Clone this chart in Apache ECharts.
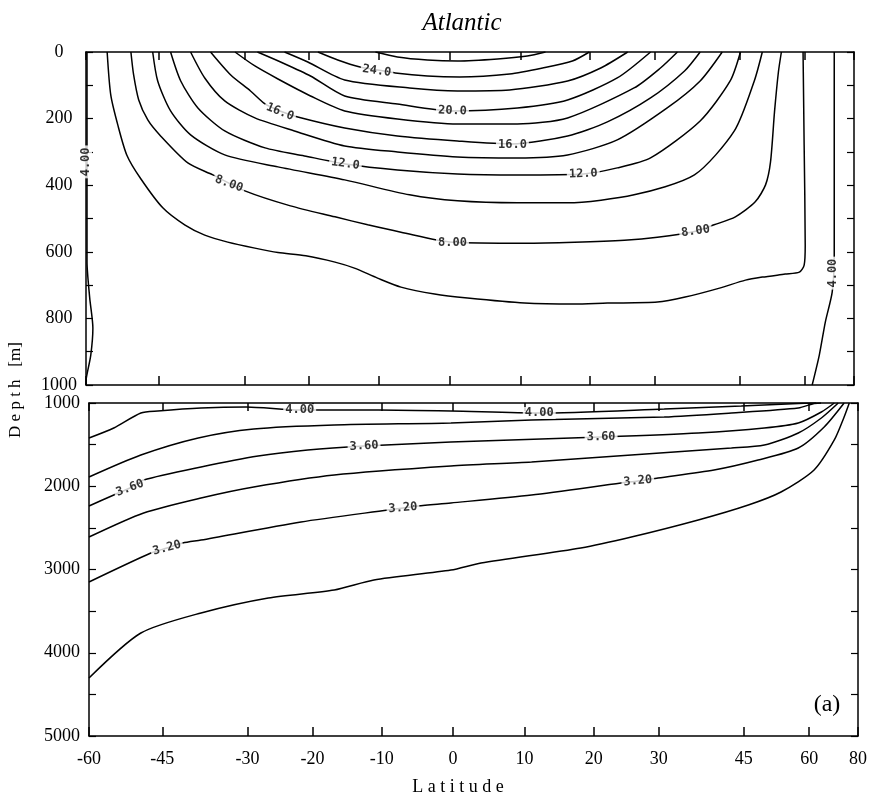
<!DOCTYPE html>
<html>
<head>
<meta charset="utf-8">
<script src="https://cdn.jsdelivr.net/npm/echarts@6/dist/echarts.min.js"></script>
<style>
  html, body { margin: 0; padding: 0; background: #fff; }
  #main { width: 871px; height: 796px; }
</style>
</head>
<body>
<div id="main"></div>
<script>
// latitude axis is drawn in sin(latitude)
var LAT_MIN = -62.3, LAT_MAX = 80;
var tickLats = [-60, -45, -30, -20, -10, 0, 10, 20, 30, 45, 60, 80];

// upper panel, temperature contours [lat, depth m], 0-1000 m
var t26 = [[-10.4,0],[-7.3,15],[-3.1,24],[1.1,27],[6.7,21],[10.9,12],[13.5,0]];
var t24 = [[-18.7,0],[-15.8,24],[-12.6,45],[-10.1,54],[-7.6,63],[-3.1,72],[1.4,75],[8.4,66],[13.1,48],[17.4,27],[19.9,0]];
var t22 = [[-23.7,0],[-20.2,30],[-14.8,84],[-5.6,108],[1.1,117],[8.4,114],[16.7,87],[21.6,48],[25.7,0]];
var t20 = [[-27.9,0],[-24.3,30],[-19.8,72],[-14.8,132],[-7.3,156],[0.4,177],[9.5,168],[16.7,144],[24.1,78],[29.3,0]];
var t18 = [[-31.5,0],[-28.3,42],[-24.7,81],[-19.8,132],[-14.8,177],[-7.3,201],[1.1,216],[9.5,216],[16.7,198],[26.7,108],[30.9,48],[33.7,0]];
var t16 = [[-35.6,0],[-32.2,69],[-29.0,117],[-26.7,156],[-24.4,177],[-21.7,195],[-14.8,228],[-7.3,252],[1.1,267],[8.8,276],[16.7,252],[22.6,210],[29.3,138],[34.9,57],[37.6,0]];
var t14 = [[-39.1,0],[-36.6,78],[-33.2,147],[-28.3,198],[-22.2,237],[-14.8,282],[-7.3,300],[1.1,315],[9.5,318],[16.7,309],[24.1,264],[32.0,168],[37.6,87],[41.6,0]];
var t12 = [[-42.8,0],[-40.9,87],[-37.8,168],[-33.2,237],[-26.7,288],[-20.7,312],[-14.7,336],[-7.3,354],[1.1,366],[9.5,369],[19.0,366],[24.1,348],[29.3,318],[37.6,207],[43.1,87],[45.1,0]];
var t10 = [[-46.3,0],[-45.3,87],[-42.8,177],[-39.1,249],[-33.2,309],[-24.7,345],[-14.8,384],[-5.6,429],[1.1,447],[9.5,453],[16.7,453],[26.7,429],[36.6,369],[43.9,237],[47.9,87],[49.6,0]];
var t8 = [[-50.9,0],[-50.3,69],[-49.2,144],[-47.3,204],[-44.9,249],[-39.6,333],[-35.2,369],[-29.9,417],[-22.8,462],[-16.2,495],[-11.5,519],[-6.8,541],[0.4,571],[10.5,574],[17.7,571],[25.2,565],[30.4,556],[36.8,538],[40.1,519],[44.1,495],[48.1,450],[50.3,399],[51.4,330],[52.3,180],[53.2,60],[53.9,0]];
var t6 = [[-56.5,0],[-55.6,129],[-53.9,219],[-51.8,310],[-48.8,380],[-44.3,468],[-40.1,520],[-36.6,550],[-32.7,571],[-28.3,589],[-24.7,602],[-20.5,612],[-16.2,631],[-13.4,649],[-10.1,679],[-6.8,706],[-2.1,727],[2.5,739],[10.5,754],[17.7,757],[22.6,754],[30.4,751],[35.0,736],[41.1,709],[46.1,685],[49.6,676],[54.8,667],[58.4,661],[59.7,640],[60.0,580],[59.7,279],[59.4,0]];
var t4west = [[-62.0,0],[-62.0,630],[-61.2,739],[-60.3,829],[-60.9,910],[-62.2,979],[-62.3,1000]];
var t4east = [[69.5,0],[69.5,610],[68.7,721],[66.2,811],[64.2,910],[62.0,1000]];

// lower panel, 1000-5000 m
var d400 = [[-62.3,1420],[-55.6,1300],[-49.4,1120],[-45.9,1096],[-37.8,1060],[-30.2,1048],[-21.9,1084],[-10.5,1084],[-0.3,1096],[12.1,1120],[30.9,1072],[44.5,1036],[57.1,1005],[62.0,1000]];
var d380 = [[-62.3,1889],[-49.4,1625],[-38.3,1420],[-29.0,1312],[-16.8,1264],[-0.3,1240],[11.0,1204],[30.9,1168],[42.6,1120],[57.1,1060],[61.4,1005],[63.5,1000]];
var d360 = [[-62.3,2237],[-55.6,2105],[-51.8,2021],[-48.8,1925],[-37.8,1769],[-28.3,1637],[-20.7,1565],[-12.5,1517],[-0.3,1469],[21.1,1408],[36.6,1360],[49.2,1300],[57.1,1240],[63.6,1108],[68.0,1000]];
var d340 = [[-62.3,2610],[-48.8,2321],[-37.8,2141],[-29.0,2009],[-16.8,1865],[-0.3,1757],[11.0,1709],[25.7,1625],[42.6,1541],[49.2,1505],[57.1,1360],[63.6,1180],[69.5,1000]];
var d320 = [[-62.3,3150],[-47.3,2802],[-44.1,2742],[-41.1,2682],[-37.8,2646],[-21.7,2429],[-9.1,2285],[-7.0,2261],[-4.9,2237],[-0.3,2201],[11.0,2105],[24.1,1961],[26.7,1937],[29.9,1901],[39.4,1805],[47.9,1685],[57.1,1541],[64.5,1288],[72.0,1000]];
var d300 = [[-62.3,4303],[-49.4,3763],[-37.8,3522],[-26.7,3342],[-16.8,3246],[-11.1,3126],[-0.3,3006],[3.9,2922],[18.1,2742],[25.7,2610],[36.6,2405],[45.9,2225],[52.9,2069],[61.4,1805],[68.0,1444],[72.0,1168],[74.5,1000]];

// contour labels [lat, depth, text, rotate]
var upperLabels = [
  [-10.2, 57, '24.0', -8], [0.4, 177, '20.0', -2], [-24.4, 180, '16.0', -22],
  [8.8, 279, '16.0', 0], [-14.7, 336, '12.0', -8], [19.0, 366, '12.0', 2],
  [-32.5, 396, '8.00', -20], [0.4, 574, '8.00', 0], [36.8, 538, '8.00', 8],
  [-62.3, 330, '4.00', 90], [69.1, 664, '4.00', 90]
];
var lowerLabels = [
  [-21.9, 1084, '4.00', 0], [12.1, 1120, '4.00', 0],
  [-51.8, 2021, '3.60', 20], [-12.5, 1517, '3.60', 3], [21.1, 1408, '3.60', 1],
  [-44.1, 2742, '3.20', 15], [-7.0, 2261, '3.20', 5], [26.7, 1937, '3.20', 5]
];

var upperContours = [t26, t24, t22, t20, t18, t16, t14, t12, t10, t8, t6, t4west, t4east];
var lowerContours = [d400, d380, d360, d340, d320, d300];

function xOf(lat) { return Math.sin(lat * Math.PI / 180); }
var X_MIN = xOf(LAT_MIN), X_MAX = xOf(LAT_MAX);
var tickPos = tickLats.map(function (l) { return l === -60 ? X_MIN : xOf(l); });

var myChart = echarts.init(document.getElementById('main'));

var serif = 'Liberation Serif';
var black = '#000';

function xAxisFor(grid, pos, labels, tickLen) {
  return {
    type: 'value', gridIndex: grid, position: pos, min: X_MIN, max: X_MAX,
    axisLine: { show: true, onZero: false, lineStyle: { color: black, width: 1.5 } },
    axisTick: { show: true, inside: true, length: tickLen, customValues: tickPos,
      lineStyle: { color: black, width: 1.5 } },
    axisLabel: {
      show: labels, customValues: tickPos, margin: 14,
      fontFamily: serif, fontSize: 18, color: black,
      formatter: function (v) {
        for (var i = 0; i < tickPos.length; i++) {
          if (Math.abs(tickPos[i] - v) < 1e-6) return String(tickLats[i]);
        }
        return '';
      }
    },
    splitLine: { show: false }
  };
}

function yAxisFor(grid, pos, min, max, step, labels) {
  return {
    type: 'value', gridIndex: grid, position: pos, inverse: true,
    min: min, max: max, interval: step,
    axisLine: { show: true, onZero: false, lineStyle: { color: black, width: 1.5 } },
    axisTick: { show: true, inside: true, length: 7, lineStyle: { color: black, width: 1.2 } },
    minorTick: { show: true, splitNumber: 2, length: 7, lineStyle: { color: black, width: 1.2 } },
    axisLabel: {
      show: labels, align: 'center', margin: 27, fontFamily: serif, fontSize: 18, color: black,
      formatter: function (v) { return String(v); }
    },
    splitLine: { show: false }
  };
}

function lineSeries(pts, grid) {
  return {
    type: 'line', xAxisIndex: grid * 2, yAxisIndex: grid * 2,
    data: pts.map(function (p) { return [xOf(p[0]), p[1]]; }),
    showSymbol: false, symbol: 'none', smooth: 0.25,
    lineStyle: { color: black, width: 1.5 },
    silent: true, z: 2
  };
}

function labelSeries(list, grid) {
  return {
    type: 'scatter', xAxisIndex: grid * 2, yAxisIndex: grid * 2,
    symbolSize: 0, silent: true, z: 5,
    data: list.map(function (l) {
      return { value: [xOf(l[0]), l[1]], name: l[2], label: { rotate: l[3] } };
    }),
    label: {
      show: true, position: 'inside', formatter: '{b}',
      fontFamily: 'DejaVu Sans Mono', fontWeight: 'bold', fontSize: 12, color: black,
      backgroundColor: '#fff', padding: [0, 2]
    }
  };
}

var series = [];
upperContours.forEach(function (c) { series.push(lineSeries(c, 0)); });
lowerContours.forEach(function (c) { series.push(lineSeries(c, 1)); });
series.push(labelSeries(upperLabels, 0));
series.push(labelSeries(lowerLabels, 1));

myChart.setOption({
  animation: false,
  backgroundColor: '#fff',
  title: {
    text: 'Atlantic', left: 457, top: 6, textAlign: 'center',
    textStyle: { fontFamily: serif, fontStyle: 'italic', fontWeight: 'normal', fontSize: 25, color: black }
  },
  grid: [
    { left: 86, right: 17, top: 52, height: 333 },
    { left: 89, right: 13, top: 403, height: 333 }
  ],
  xAxis: [
    xAxisFor(0, 'bottom', false, 9),
    xAxisFor(0, 'top', false, 8),
    xAxisFor(1, 'bottom', true, 9),
    xAxisFor(1, 'top', false, 8)
  ],
  yAxis: [
    yAxisFor(0, 'left', 0, 1000, 200, true),
    yAxisFor(0, 'right', 0, 1000, 200, false),
    yAxisFor(1, 'left', 1000, 5000, 1000, true),
    yAxisFor(1, 'right', 1000, 5000, 1000, false)
  ],
  graphic: [
    { type: 'text', x: 16, y: 390, rotation: Math.PI / 2,
      style: { text: 'D e p t h   [m]', font: '17px "Liberation Serif"', fill: black, textAlign: 'center', textVerticalAlign: 'middle' } },
    { type: 'text', x: 458, y: 787,
      style: { text: 'L a t i t u d e', font: '18px "Liberation Serif"', fill: black, textAlign: 'center', textVerticalAlign: 'middle' } },
    { type: 'text', x: 827, y: 705,
      style: { text: '(a)', font: '24px "Liberation Serif"', fill: black, textAlign: 'center', textVerticalAlign: 'middle' } }
  ],
  series: series
});
</script>
</body>
</html>
